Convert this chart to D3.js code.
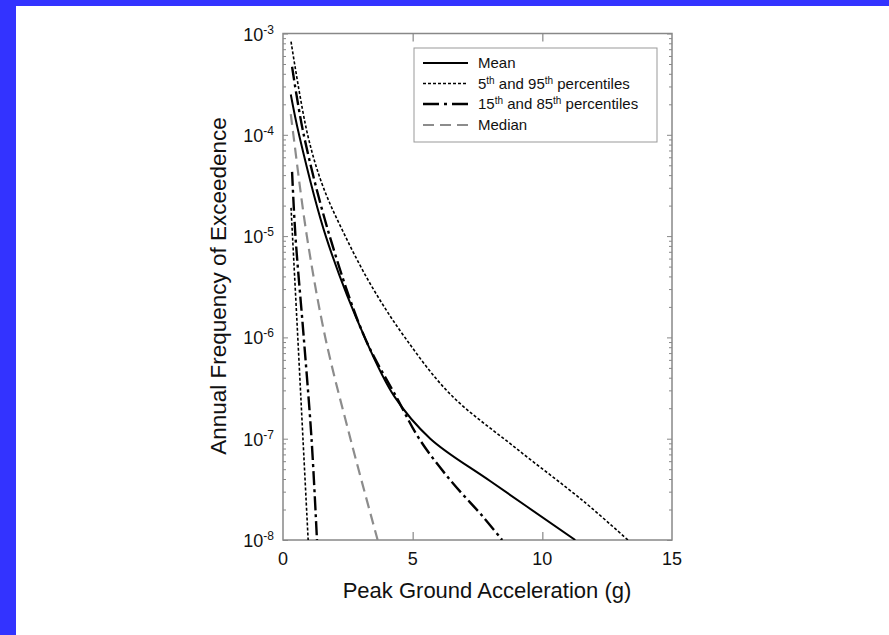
<!DOCTYPE html>
<html>
<head>
<meta charset="utf-8">
<script src="https://cdn.jsdelivr.net/npm/d3@7"></script>
<style>
  body { margin: 0; background: #fff; }
  text { font-family: Arial, "Liberation Sans", sans-serif; fill: #111; }
</style>
</head>
<body>
<div id="chart"></div>
<script>
// curve data: [PGA (g), annual frequency]
var meanPts   = [[0.3,2.5e-4],[0.62,1e-4],[1.65,1e-5],[3.15,1e-6],[4.3,2.6e-7],[5.68,1e-7],[8.0,3.8e-8],[11.27,1e-8]];
var p95Pts    = [[0.31,8.3e-4],[0.95,1e-4],[1.54,3.1e-5],[2.4,1e-5],[3.45,3.1e-6],[4.7,1e-6],[6.45,2.75e-7],[9.0,8e-8],[11.6,2.4e-8],[13.3,1e-8]];
var p5Pts     = [[0.31,1.9e-5],[0.57,1e-6],[0.77,1e-7],[0.97,1e-8]];
var p85Pts    = [[0.35,4.7e-4],[0.8,1e-4],[1.8,1e-5],[3.15,1e-6],[4.4,2.5e-7],[5.25,1e-7],[6.45,3.9e-8],[7.71,1.7e-8],[8.45,1e-8]];
var p15Pts    = [[0.35,4.3e-5],[0.48,1e-5],[0.8,1e-6],[1.1,1e-7],[1.31,1e-8]];
var medianPts = [[0.3,1.6e-4],[0.4,1e-4],[0.92,1e-5],[1.63,1e-6],[2.6,1e-7],[3.65,1e-8]];

var xTicks = [0, 5, 10, 15];
var yExps = [-3, -4, -5, -6, -7, -8];

var W = 889, H = 635;
var margin = {top: 33.5, left: 283, right: 217, bottom: 95};
var width = W - margin.left - margin.right,
    height = H - margin.top - margin.bottom;

var svg = d3.select("#chart").append("svg")
  .attr("width", W).attr("height", H);

// blue frame of the slide
svg.append("rect").attr("x", 0).attr("y", 0).attr("width", W).attr("height", 6).attr("fill", "#3333ff");
svg.append("rect").attr("x", 0).attr("y", 0).attr("width", 16).attr("height", H).attr("fill", "#3333ff");

var g = svg.append("g").attr("transform", "translate(" + margin.left + "," + margin.top + ")");

var x = d3.scaleLinear().domain([0, 15]).range([0, width]);
var y = d3.scaleLog().domain([1e-8, 1e-3]).range([height, 0]);

g.append("clipPath").attr("id", "clip")
  .append("rect").attr("width", width).attr("height", height);

// frame
g.append("rect").attr("width", width).attr("height", height)
  .attr("fill", "none").attr("stroke", "#888").attr("stroke-width", 1.5);

// x ticks (inward, top and bottom)
g.append("g").attr("transform", "translate(0," + height + ")")
  .call(d3.axisBottom(x).tickValues([5, 10]).tickSizeInner(-8).tickSizeOuter(0).tickFormat(""))
  .call(function(a){ a.select(".domain").remove(); a.selectAll("line").attr("stroke", "#888").attr("stroke-width", 1.2); });
g.append("g")
  .call(d3.axisTop(x).tickValues([5, 10]).tickSizeInner(-8).tickSizeOuter(0).tickFormat(""))
  .call(function(a){ a.select(".domain").remove(); a.selectAll("line").attr("stroke", "#888").attr("stroke-width", 1.2); });

// y ticks: majors and minors, both sides
var minor = [];
for (var e = -8; e < -3; e++) for (var m = 2; m <= 9; m++) minor.push(m * Math.pow(10, e));
var major = yExps.map(function(e){ return Math.pow(10, e); });

[[d3.axisLeft, 0], [d3.axisRight, width]].forEach(function(s){
  var ax = g.append("g").attr("transform", "translate(" + s[1] + ",0)");
  ax.append("g").call(s[0](y).tickValues(minor).tickSizeInner(-3).tickSizeOuter(0).tickFormat(""));
  ax.append("g").call(s[0](y).tickValues(major).tickSizeInner(-5).tickSizeOuter(0).tickFormat(""));
  ax.selectAll(".domain").remove();
  ax.selectAll("line").attr("stroke", "#888").attr("stroke-width", 1);
});

// y tick labels 10^n
yExps.forEach(function(e){
  var t = g.append("text").attr("x", -9).attr("y", y(Math.pow(10, e)) + 7)
    .attr("text-anchor", "end").style("font-size", "18px");
  t.append("tspan").text("10");
  t.append("tspan").attr("dy", -7).style("font-size", "12px").text(e);
});

// x tick labels
g.selectAll(".xl").data(xTicks).enter().append("text")
  .attr("x", function(d){ return x(d); }).attr("y", height + 25)
  .attr("text-anchor", "middle").style("font-size", "18px")
  .text(function(d){ return d; });

// axis titles
svg.append("text").attr("x", 487).attr("y", 598).attr("text-anchor", "middle")
  .style("font-size", "22px").text("Peak Ground Acceleration (g)");
svg.append("text").attr("transform", "translate(226,286) rotate(-90)").attr("text-anchor", "middle")
  .style("font-size", "22.5px").text("Annual Frequency of Exceedence");

// curves
var line = d3.line().x(function(d){ return x(d[0]); }).y(function(d){ return y(d[1]); })
  .curve(d3.curveCatmullRom.alpha(0.5));

var styles = {
  mean:   {stroke: "#000", width: 2,   dash: null},
  p595:   {stroke: "#000", width: 1.6, dash: "3,2"},
  p1585:  {stroke: "#000", width: 2.4, dash: "14,4,3,4"},
  median: {stroke: "#8c8c8c", width: 2.2, dash: "11,6"}
};

var curves = [
  [p5Pts, "p595"], [p95Pts, "p595"], [p15Pts, "p1585"], [p85Pts, "p1585"],
  [medianPts, "median"], [meanPts, "mean"]
];
var plot = g.append("g").attr("clip-path", "url(#clip)");
curves.forEach(function(c){
  var s = styles[c[1]];
  plot.append("path").datum(c[0]).attr("d", line)
    .attr("fill", "none").attr("stroke", s.stroke).attr("stroke-width", s.width)
    .attr("stroke-dasharray", s.dash);
});

// legend
var legend = svg.append("g");
legend.append("rect").attr("x", 414).attr("y", 48).attr("width", 243).attr("height", 94)
  .attr("fill", "#fff").attr("stroke", "#999").attr("stroke-width", 1);
var legendRows = [
  {key: "mean", parts: [["Mean"]]},
  {key: "p595", parts: [["5"], ["th", 1], [" and 95"], ["th", 1], [" percentiles"]]},
  {key: "p1585", parts: [["15"], ["th", 1], [" and 85"], ["th", 1], [" percentiles"]]},
  {key: "median", parts: [["Median"]]}
];
var rowY = [63, 83.5, 104, 125];
legendRows.forEach(function(r, i){
  var s = styles[r.key];
  var dash = r.key == "p1585" ? "16,5,3,5" : s.dash;
  legend.append("line").attr("x1", 423).attr("x2", 468).attr("y1", rowY[i]).attr("y2", rowY[i])
    .attr("stroke", s.stroke).attr("stroke-width", s.width).attr("stroke-dasharray", dash);
  var t = legend.append("text").attr("x", 478).attr("y", rowY[i] + 5).style("font-size", "15px");
  r.parts.forEach(function(p){
    var ts = t.append("tspan").text(p[0]);
    if (p[1]) ts.style("font-size", "10px").attr("baseline-shift", "super");
  });
});
</script>
</body>
</html>
